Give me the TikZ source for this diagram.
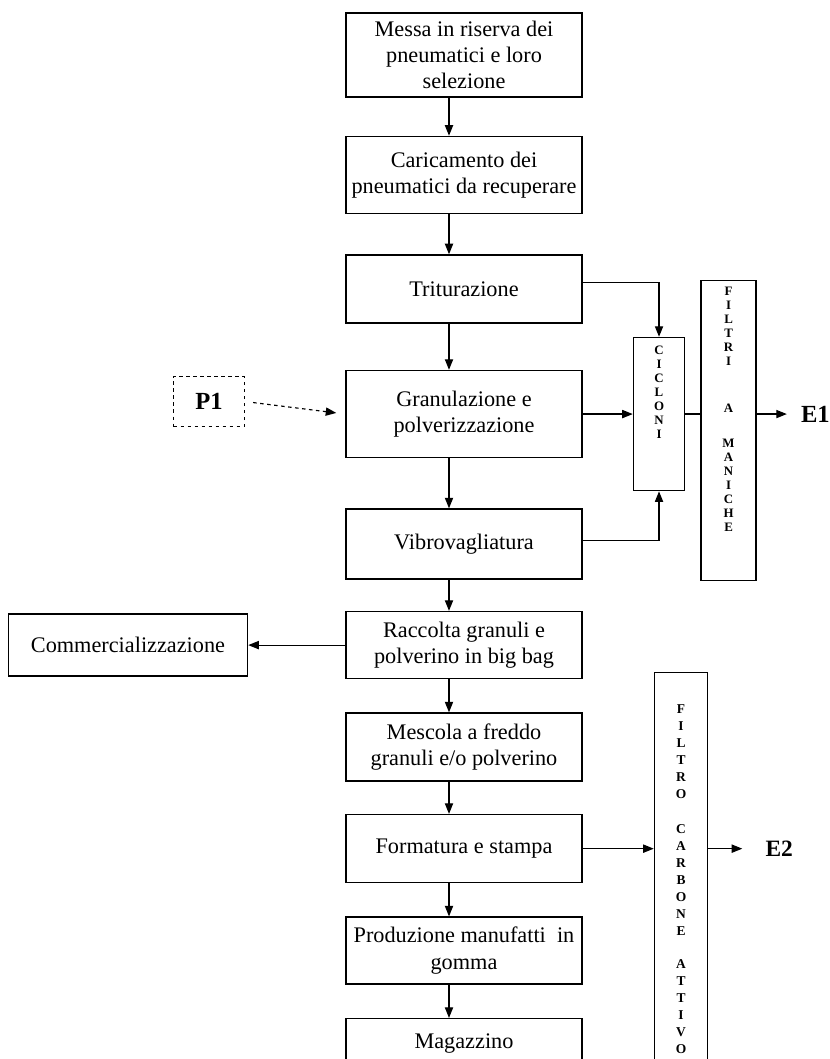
\documentclass[tikz,border=0pt]{standalone}
\usepackage{fontspec}
\setmainfont{Liberation Serif}
\usetikzlibrary{positioning,arrows.meta}

\begin{document}
\begin{tikzpicture}[
        node distance=1cm and 1.5cm,
        box/.style={
            draw,
            rectangle,
            minimum width=7.08cm,
            minimum height=2.04cm,
            align=center,
            line width=1.3pt,
            font=\fontsize{19}{22.5}\selectfont
        },
        inputbox/.style={
            draw,
            dashed,
            rectangle,
            minimum width=2.13cm,
            minimum height=1.5cm,
            line width=1.3pt,
            font=\fontsize{21}{24}\selectfont\bfseries
        },
        filterbox/.style={
            draw,
            rectangle,
            line width=1.3pt
        },
        letters/.style={
            align=center,
            inner sep=0pt,
            font=\fontsize{11}{11.9}\selectfont\bfseries
        },
        outlet/.style={
            inner sep=0pt,
            anchor=west,
            font=\fontsize{21}{24}\selectfont\bfseries
        },
        arrow/.style={
            ->,
            line width=1pt,
            >={Stealth[length=9pt, width=7pt, inset=0pt]}
        },
        link/.style={
            line width=1pt
        }
    ]
        \useasboundingbox (0,0) rectangle (24.87,31.77);

        % main column
        \node (riserva) [box, minimum height=2.52cm] at (13.92,30.12) {Messa in riserva dei\\pneumatici e loro\\selezione};
        \node (carico) [box, minimum height=2.31cm, below=1.14cm of riserva] {Caricamento dei\\pneumatici da recuperare};
        \node (trit) [box, below=1.2cm of carico] {Triturazione};
        \node (gran) [box, minimum height=2.61cm, below=1.38cm of trit] {Granulazione e\\polverizzazione};
        \node (vibro) [box, minimum height=2.1cm, below=1.5cm of gran] {Vibrovagliatura};
        \node (raccolta) [box, minimum height=2.01cm, below=0.93cm of vibro] {Raccolta granuli e\\polverino in big bag};
        \node (mescola) [box, below=0.99cm of raccolta] {Mescola a freddo\\granuli e/o polverino};
        \node (formatura) [box, below=0.96cm of mescola] {Formatura e stampa};
        \node (produzione) [box, minimum height=2.01cm, below=0.99cm of formatura] {Produzione manufatti~ in\\gomma};
        \node (magazzino) [box, minimum height=1.5cm, below=0.99cm of produzione] {Magazzino};

        % side boxes
        \node (comm) [box, minimum width=7.17cm, minimum height=1.86cm, left=2.91cm of raccolta] {Commercializzazione};
        \node (p1) [inputbox, left=3cm of gran, yshift=0.375cm] {P1};
        \node (cicloni) [filterbox, minimum width=1.53cm, minimum height=4.59cm, right=1.5cm of gran] {};
        \node (filtri) [filterbox, minimum width=1.65cm, minimum height=9cm, right=0.45cm of cicloni, yshift=-0.5cm] {};
        \node (carbone) [filterbox, minimum width=1.59cm, minimum height=11.85cm, right=2.13cm of formatura, yshift=-0.645cm] {};

        % vertical labels
        \node (cicloni-txt) [letters, below=0.28cm of cicloni.north] {C\\I\\C\\L\\O\\N\\I};
        \node (filtri-txt) [letters, below=0.2cm of filtri.north] {F\\I\\L\\T\\R\\I\\[29pt]A\\[18pt]M\\A\\N\\I\\C\\H\\E};
        \node (carbone-txt) [letters, font=\fontsize{11.5}{14.5}\selectfont\bfseries, below=0.98cm of carbone.north] {F\\I\\L\\T\\R\\O\\[15pt]C\\A\\R\\B\\O\\N\\E\\[14pt]A\\T\\T\\I\\V\\O};

        % outlets
        \node (e1) [outlet, xshift=1.32cm] at (filtri.east |- cicloni.east) {E1};
        \node (e2) [outlet, font=\fontsize{20}{24}\selectfont\bfseries, xshift=1.71cm] at (carbone.east |- formatura.east) {E2};

        % main flow
        \draw[arrow] ([xshift=-0.45cm]riserva.south) -- ([xshift=-0.45cm]carico.north);
        \draw[arrow] ([xshift=-0.45cm]carico.south) -- ([xshift=-0.45cm]trit.north);
        \draw[arrow] ([xshift=-0.45cm]trit.south) -- ([xshift=-0.45cm]gran.north);
        \draw[arrow] ([xshift=-0.45cm]gran.south) -- ([xshift=-0.45cm]vibro.north);
        \draw[arrow] ([xshift=-0.45cm]vibro.south) -- ([xshift=-0.45cm]raccolta.north);
        \draw[arrow] ([xshift=-0.45cm]raccolta.south) -- ([xshift=-0.45cm]mescola.north);
        \draw[arrow] ([xshift=-0.45cm]mescola.south) -- ([xshift=-0.45cm]formatura.north);
        \draw[arrow] ([xshift=-0.45cm]formatura.south) -- ([xshift=-0.45cm]produzione.north);
        \draw[arrow] ([xshift=-0.45cm]produzione.south) -- ([xshift=-0.45cm]magazzino.north);

        % side flows
        \draw[arrow, dashed, shorten <=0.24cm, shorten >=0.27cm] (p1.east) -- (gran.west);
        \draw[arrow] ([yshift=0.2cm]trit.east) -| (cicloni.north);
        \draw[arrow] (gran.east) -- (gran.east -| cicloni.west);
        \draw[arrow] ([yshift=0.1cm]vibro.east) -| (cicloni.south);
        \draw[link] (cicloni.east) -- (cicloni.east -| filtri.west);
        \draw[arrow, shorten >=0.42cm] (filtri.east |- e1.west) -- (e1.west);
        \draw[arrow] (raccolta.west) -- (raccolta.west -| comm.east);
        \draw[arrow] (formatura.east) -- (formatura.east -| carbone.west);
        \draw[arrow, shorten >=0.69cm] (carbone.east |- e2.west) -- (e2.west);
    \end{tikzpicture}
\end{document}
